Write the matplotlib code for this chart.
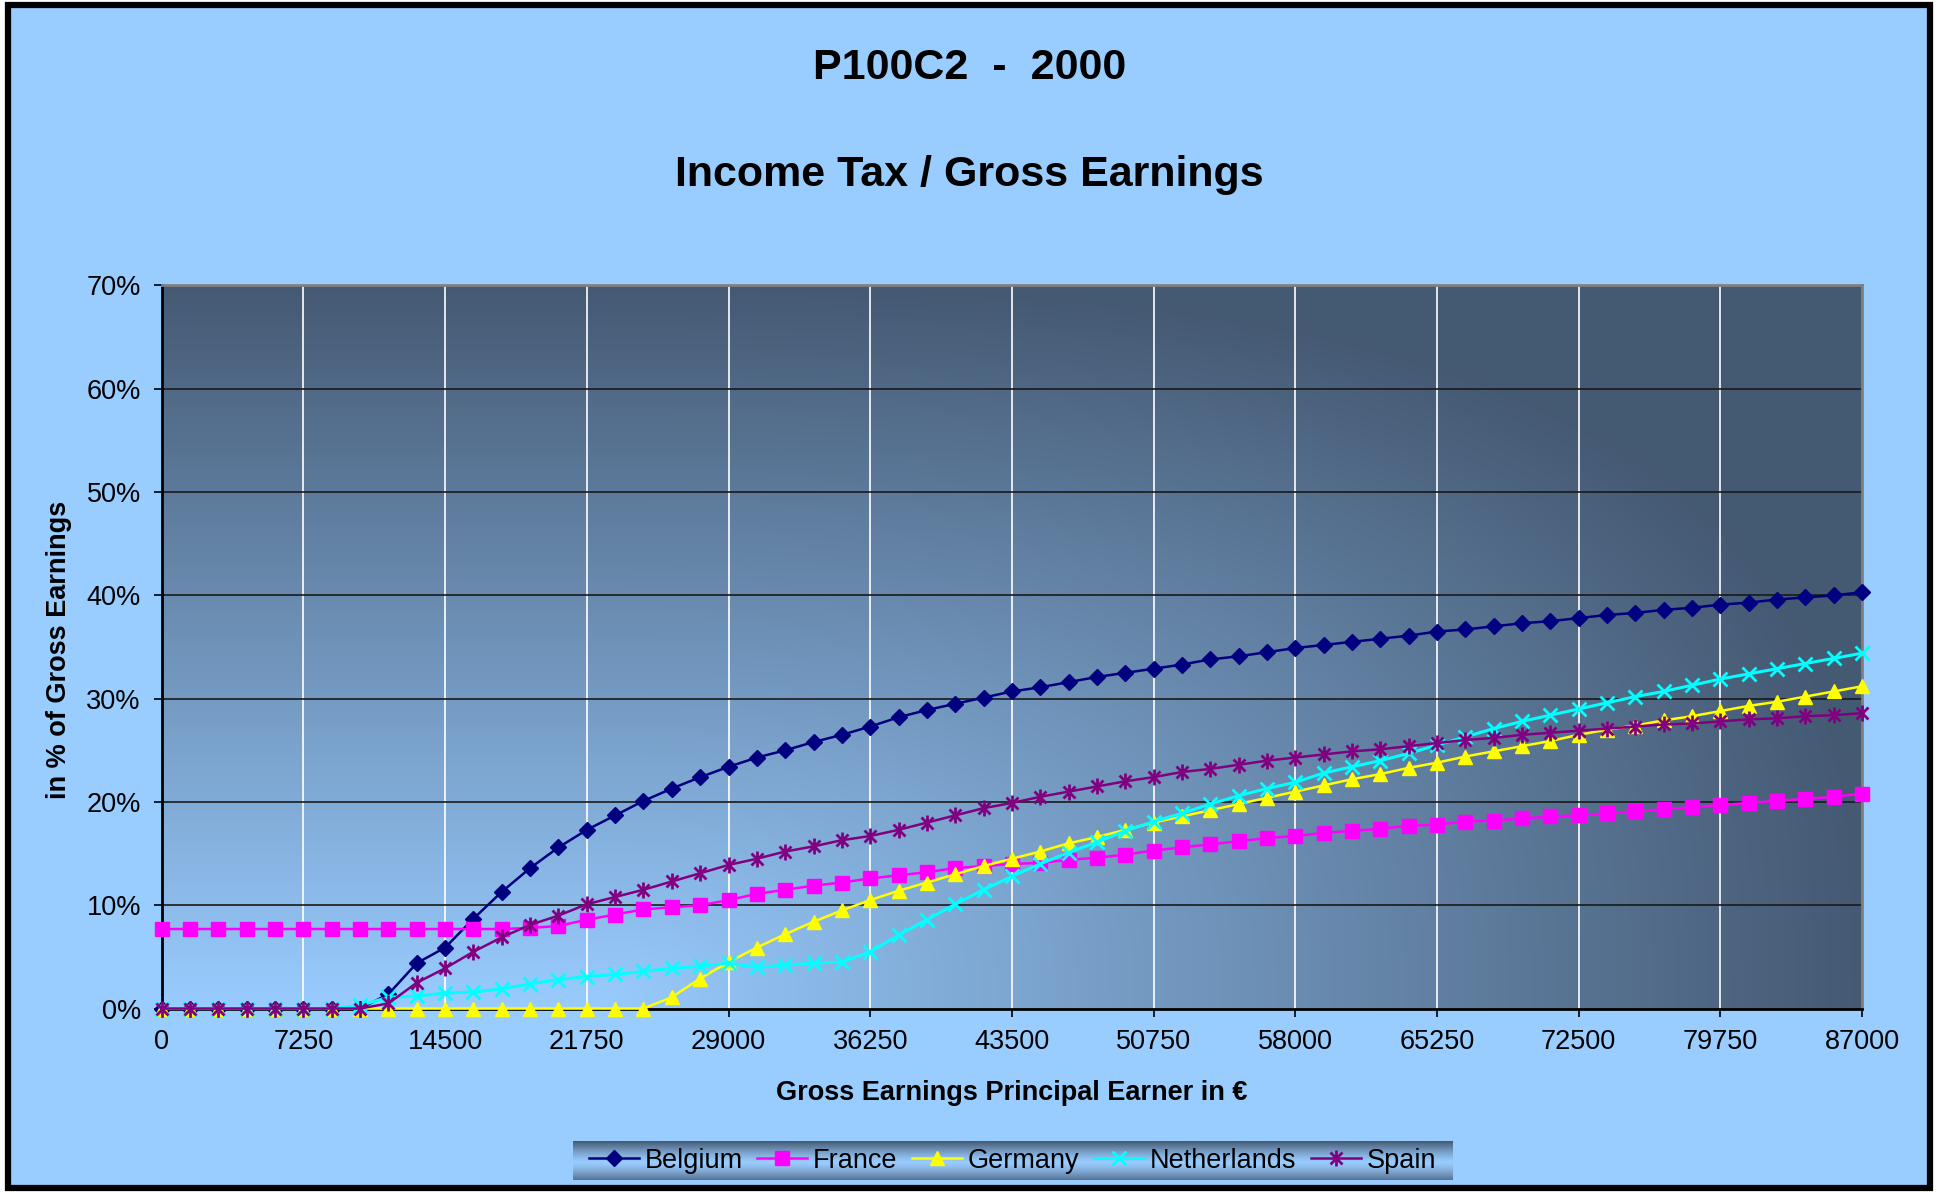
import numpy as np
import matplotlib
matplotlib.use("Agg")
from matplotlib import pyplot as plt
from matplotlib.path import Path
from matplotlib.patches import Rectangle

plt.rcParams['font.family'] = ['Liberation Sans', 'DejaVu Sans']

##### Data (percent of gross earnings)
incomes = np.arange(0, 87001, 1450)
tick_values = np.arange(0, 87001, 7250)

belgium = [0, 0, 0, 0, 0, 0, 0, 0, 1.4, 4.4, 5.9, 8.7, 11.3, 13.6, 15.6, 17.3, 18.7, 20.1,
           21.3, 22.4, 23.4, 24.3, 25.0, 25.8, 26.5, 27.3, 28.2, 28.9, 29.5, 30.1, 30.7,
           31.1, 31.6, 32.1, 32.5, 32.9, 33.3, 33.8, 34.1, 34.5, 34.9, 35.2, 35.5, 35.8,
           36.1, 36.5, 36.7, 37.0, 37.3, 37.5, 37.8, 38.1, 38.3, 38.6, 38.8, 39.1, 39.3,
           39.6, 39.8, 40.0, 40.3]
france = [7.7, 7.7, 7.7, 7.7, 7.7, 7.7, 7.7, 7.7, 7.7, 7.7, 7.7, 7.7, 7.7, 7.8, 8.0, 8.6,
          9.1, 9.6, 9.8, 10.0, 10.5, 11.1, 11.5, 11.9, 12.2, 12.6, 12.9, 13.2, 13.6, 13.8,
          14.0, 14.1, 14.4, 14.6, 14.9, 15.3, 15.6, 15.9, 16.2, 16.5, 16.7, 17.0, 17.2,
          17.4, 17.7, 17.8, 18.1, 18.2, 18.4, 18.6, 18.7, 18.9, 19.1, 19.3, 19.5, 19.7,
          19.9, 20.1, 20.3, 20.5, 20.8]
germany = [0, 0, 0, 0, 0, 0, 0, 0, 0, 0, 0, 0, 0, 0, 0, 0, 0, 0, 1.1, 2.9, 4.5, 5.9, 7.2,
           8.4, 9.5, 10.5, 11.4, 12.2, 13.0, 13.8, 14.5, 15.2, 16.0, 16.6, 17.3, 18.0,
           18.6, 19.2, 19.8, 20.4, 21.0, 21.6, 22.2, 22.7, 23.3, 23.8, 24.4, 24.9, 25.4,
           25.9, 26.5, 27.0, 27.4, 27.9, 28.3, 28.8, 29.3, 29.7, 30.2, 30.7, 31.2]
netherlands = [0, 0, 0, 0, 0, 0, 0, 0.3, 1.1, 1.2, 1.5, 1.6, 1.9, 2.4, 2.8, 3.1, 3.3, 3.6,
               3.9, 4.1, 4.4, 4.0, 4.2, 4.4, 4.5, 5.5, 7.1, 8.6, 10.1, 11.5, 12.8, 14.0,
               15.1, 16.1, 17.2, 18.1, 18.9, 19.8, 20.6, 21.3, 21.9, 22.8, 23.4, 24.0,
               24.7, 25.5, 26.3, 27.1, 27.8, 28.4, 29.0, 29.6, 30.2, 30.7, 31.3, 31.9,
               32.4, 32.9, 33.4, 33.9, 34.4]
spain = [0, 0, 0, 0, 0, 0, 0, 0, 0.5, 2.5, 3.9, 5.5, 6.9, 8.1, 9.0, 10.1, 10.8, 11.5, 12.3,
         13.1, 13.9, 14.5, 15.2, 15.7, 16.3, 16.7, 17.3, 18.0, 18.7, 19.4, 19.9, 20.5,
         21.0, 21.5, 22.0, 22.4, 22.9, 23.2, 23.6, 24.0, 24.3, 24.6, 24.9, 25.1, 25.4,
         25.7, 26.0, 26.2, 26.5, 26.7, 26.9, 27.1, 27.3, 27.5, 27.6, 27.8, 28.0, 28.1,
         28.3, 28.4, 28.6]

LIGHT = np.array([0.60, 0.80, 1.00])
DARK = np.array([0.27, 0.35, 0.45])

# asterisk marker: vertical bar plus an x
asterisk = Path([(0, -1), (0, 1), (-0.75, -0.75), (0.75, 0.75), (-0.75, 0.75), (0.75, -0.75)],
                [Path.MOVETO, Path.LINETO] * 3)

series = [("Belgium", belgium, "#000080", "D", 8, 1.8),
          ("France", france, "#FF00FF", "s", 10.5, 1.8),
          ("Germany", germany, "#FFFF00", "^", 10, 1.8),
          ("Netherlands", netherlands, "#00FFFF", "x", 10.5, 2.2),
          ("Spain", spain, "#800080", asterisk, 11.5, 1.8)]

fig = plt.figure(figsize=(19.37, 11.92), dpi=100)
fig.patch.set_facecolor("white")
fig.patches.append(Rectangle((8 / 1937, 4 / 1192), 1922 / 1937, 1183 / 1192,
                             transform=fig.transFigure, facecolor="#99CCFF",
                             edgecolor="black", linewidth=4.5, zorder=-10))

ax = fig.add_axes([0.0835, 0.1539, 0.8778, 0.6066])

# background gradient of the plot area
u = np.linspace(0, 1, 400)[None, :]
v = np.linspace(0, 1, 300)[:, None]
hx = np.clip((u - 0.25) / 0.75, 0, 1)
d = np.clip((v ** 3 + hx ** 3) ** (1 / 3.), 0, 1)
grad = LIGHT[None, None, :] * (1 - d[..., None]) + DARK[None, None, :] * d[..., None]
ax.imshow(grad, extent=[0, 87000, 0, 70], origin="lower", aspect="auto", zorder=0,
          interpolation="bilinear")

for x in tick_values[1:-1]:
    ax.axvline(x, color="white", lw=1.2, zorder=1)
for y in range(10, 70, 10):
    ax.axhline(y, color="#1a1a1a", lw=1.2, zorder=1)

handles = []
for name, vals, col, mk, ms, lw in series:
    mew = 2 if (mk == "x" or mk is asterisk) else 1
    h, = ax.plot(incomes, vals, color=col, lw=lw, marker=mk, markersize=ms,
                 markerfacecolor=col, markeredgecolor=col, markeredgewidth=mew,
                 label=name, zorder=3, clip_on=False)
    handles.append(h)

ax.set_xlim(0, 87000)
ax.set_ylim(0, 70)
ax.set_xticks(tick_values)
ax.set_xticklabels([str(t) for t in tick_values])
ax.set_yticks(range(0, 71, 10))
ax.set_yticklabels(["%d%%" % t for t in range(0, 71, 10)])
ax.tick_params(direction="out", length=6, width=1.2, labelsize=19.5, pad=9)

for s in ("left", "bottom"):
    ax.spines[s].set_color("black")
    ax.spines[s].set_linewidth(2)
for s in ("top", "right"):
    ax.spines[s].set_color("#808080")
    ax.spines[s].set_linewidth(2)

fig.text(0.5006, 0.943, "P100C2  -  2000", ha="center", va="center", fontsize=31, fontweight="bold")
fig.text(0.5006, 0.853, "Income Tax / Gross Earnings", ha="center", va="center", fontsize=31, fontweight="bold")
fig.text(0.5223, 1 - 1093 / 1192, "Gross Earnings Principal Earner in €", ha="center", va="center",
         fontsize=19.5, fontweight="bold")
fig.text(59 / 1937, 1 - 650 / 1192, "in % of Gross Earnings", ha="center", va="center", rotation=90,
         fontsize=19.5, fontweight="bold")

# legend box with its own gradient
lax = fig.add_axes([573 / 1937, 12 / 1192, 879 / 1937, 39 / 1192])
t = np.linspace(0, 1, 100)[:, None]
f = np.clip(np.abs(t - 0.45) / 0.55, 0, 1) ** 1.3
lg = LIGHT[None, None, :] * (1 - f[..., None]) + DARK[None, None, :] * f[..., None]
lax.imshow(np.repeat(lg, 10, axis=1), extent=[0, 1, 0, 1], origin="lower", aspect="auto")
lax.set_axis_off()
lax.legend(handles=handles, loc="center", ncol=5, frameon=False, fontsize=19.5,
           handlelength=1.85, handletextpad=0.2, columnspacing=0.55, borderaxespad=0)

fig.savefig("out.png", dpi=100)
plt.close()
